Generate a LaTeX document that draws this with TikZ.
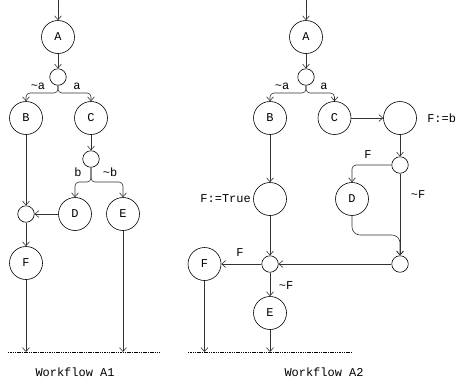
\documentclass[tikz,border=0pt]{standalone}
\usepackage{fontspec}
\setmonofont{Liberation Mono}
\usetikzlibrary{arrows.meta}
\begin{document}
\begin{tikzpicture}[x=1bp,y=-1bp,
  every node/.style={font=\ttfamily\fontsize{12}{13}\selectfont},
  big/.style={circle,draw,minimum size=33bp,inner sep=0pt},
  small/.style={circle,draw,minimum size=16.5bp,inner sep=0pt},
  lbl/.style={inner sep=1pt},
  conn/.style={draw=black!80,line width=0.6pt,-{Straight Barb[length=4pt,width=7pt]}},
  fork/.style={conn,rounded corners=4bp},
  every path/.style={line width=0.6pt}]
\useasboundingbox (0,0) rectangle (457,383);
% ---------------- Workflow A1 ----------------
\coordinate (inL) at (58,0);
\node[big] (A1) at (58,37) {A};
\node[small] (j1) at (58,77) {};
\node[big] (B1) at (26,118) {B};
\node[big] (C1) at (91,118) {C};
\node[small] (j2) at (91,159) {};
\node[big] (D1) at (75,214) {D};
\node[big] (E1) at (123,214) {E};
\node[small] (jL) at (26,214) {};
\node[big] (F1) at (26,263) {F};
\coordinate (F1end) at (26,352);
\coordinate (E1end) at (123,352);
\coordinate (dl1) at (8,352);
\coordinate (dl2) at (160,352);
\draw[conn] (inL) -- (A1);
\draw[conn] (A1) -- (j1);
\draw[fork] (j1.south) -- (58,93) -- (26,93) -- (B1.north);
\draw[fork] (j1.south) -- (58,93) -- (91,93) -- (C1.north);
\node[lbl] at (38,86) {\char`~a};
\node[lbl] at (77,86) {a};
\draw[conn] (B1) -- (jL);
\draw[conn] (C1) -- (j2);
\draw[fork] (j2.south) -- (91,182) -- (75,182) -- (D1.north);
\draw[fork] (j2.south) -- (91,182) -- (123,182) -- (E1.north);
\node[lbl] at (78,172) {b};
\node[lbl] at (110,172) {\char`~b};
\draw[conn] (D1) -- (jL);
\draw[conn] (jL) -- (F1);
\draw[conn] (F1) -- (F1end);
\draw[conn] (E1) -- (E1end);
\draw[dashed,dash pattern=on 1.5pt off 0.8pt,line width=0.5pt] (dl1) -- (dl2);
\node at (75,372) {Workflow A1};
% ---------------- Workflow A2 ----------------
\coordinate (inR) at (306,0);
\node[big] (A2) at (306,37) {A};
\node[small] (k1) at (306,77) {};
\node[big] (B2) at (270,118) {B};
\node[big] (C2) at (334.5,118) {C};
\node[big] (G2) at (400,118) {};
\node[lbl,anchor=west] at (426,118) {F:=b};
\node[small] (k2) at (400,165) {};
\node[big] (D2) at (352,199) {D};
\node[big] (H2) at (270,199) {};
\node[lbl,anchor=east] at (252,199) {F:=True};
\node[small] (k3) at (400,264) {};
\node[small] (km) at (270,264) {};
\node[big] (F2) at (204.5,264) {F};
\node[big] (E2) at (270,313) {E};
\coordinate (F2end) at (204.5,352);
\coordinate (E2end) at (270,352);
\coordinate (dr1) at (188,352);
\coordinate (dr2) at (352,352);
\draw[conn] (inR) -- (A2);
\draw[conn] (A2) -- (k1);
\draw[fork] (k1.south) -- (306,93) -- (270,93) -- (B2.north);
\draw[fork] (k1.south) -- (306,93) -- (334.5,93) -- (C2.north);
\node[lbl] at (282,86) {\char`~a};
\node[lbl] at (324,86) {a};
\draw[conn] (C2) -- (G2);
\draw[conn] (G2) -- (k2);
\draw[fork] (k2.west) -- (352,165) -- (D2.north);
\node[lbl] at (368,155) {F};
\draw[conn] (k2) -- (k3);
\node[lbl] at (418,195) {\char`~F};
\draw[fork,rounded corners=8bp] (D2.south) -- (352,235) -- (400,235) -- (k3.north);
\draw[conn] (B2) -- (H2);
\draw[conn] (H2) -- (km);
\draw[conn] (k3) -- (km);
\draw[conn] (km) -- (F2);
\node[lbl] at (240,253) {F};
\draw[conn] (km) -- (E2);
\node[lbl] at (286,286) {\char`~F};
\draw[conn] (F2) -- (F2end);
\draw[conn] (E2) -- (E2end);
\draw[dashed,dash pattern=on 1.5pt off 0.8pt,line width=0.5pt] (dr1) -- (dr2);
\node at (324,372) {Workflow A2};
\end{tikzpicture}
\end{document}
